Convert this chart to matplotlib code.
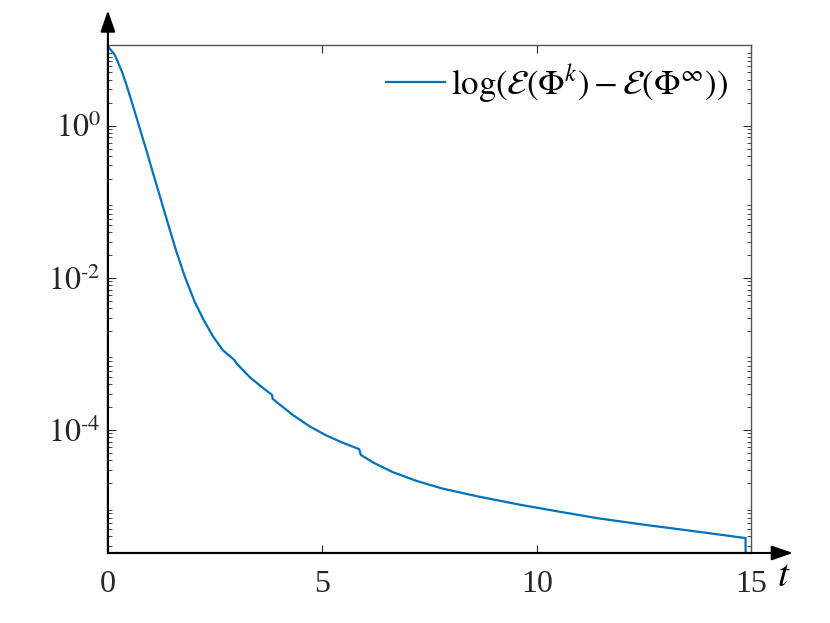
import math

import matplotlib
matplotlib.use("Agg")
import matplotlib.pyplot as plt
from matplotlib.ticker import FixedLocator, FuncFormatter, LogLocator, NullFormatter

plt.rcParams["font.family"] = ["Liberation Serif", "DejaVu Serif"]
plt.rcParams["mathtext.fontset"] = "stix"

# energy gap (repeated t = small jumps in the curve)
t_vals = [0.0, 0.16, 0.32, 0.43, 0.59, 0.74, 0.90, 1.05, 1.25, 1.46, 1.60,
          1.79, 2.02, 2.22, 2.45, 2.68, 2.95, 2.99, 3.30, 3.53, 3.83, 3.84,
          4.31, 4.70, 5.09, 5.45, 5.86, 5.90, 6.2, 6.64, 7.2, 7.80, 8.60,
          9.58, 10.5, 11.44, 12.6, 13.77, 14.87, 14.87]
gap_vals = [11.04, 8.51, 5.25, 3.47, 1.78, 0.933, 0.468, 0.240, 0.100,
            0.0398, 0.0219, 0.0105, 0.0049, 0.00288, 0.0017, 0.00112,
            8.3e-4, 7.6e-4, 5.0e-4, 3.9e-4, 2.88e-4, 2.57e-4, 1.58e-4,
            1.12e-4, 8.5e-5, 6.9e-5, 5.6e-5, 4.7e-5, 3.7e-5, 2.8e-5,
            2.14e-5, 1.7e-5, 1.35e-5, 1.05e-5, 8.5e-6, 6.9e-6, 5.6e-6,
            4.6e-6, 3.8e-6, 1e-7]

x_ticks = [0, 5, 10, 15]
y_ticks = [1e-4, 1e-2, 1e0]


def fmt_pow(v, pos):
    e = round(math.log10(v))
    return r"$10^{\text{%d}}$" % e


fig = plt.figure(figsize=(8.3, 6.23), dpi=100)
ax = fig.add_axes([0.130, 0.1124, 0.775, 0.8154])

ax.semilogy(t_vals, gap_vals, color="#0072BD", lw=1.6,
            label=r"$\log(\mathcal{E}(\Phi^k)-\mathcal{E}(\Phi^\infty))$")
ax.set_xlim(0, 15)
ax.set_ylim(10 ** -5.616, 10 ** 1.06)

ax.xaxis.set_major_locator(FixedLocator(x_ticks))
ax.yaxis.set_major_locator(FixedLocator(y_ticks))
ax.yaxis.set_minor_locator(LogLocator(base=10, subs=range(2, 10), numticks=20))
ax.yaxis.set_minor_formatter(NullFormatter())
ax.yaxis.set_major_formatter(FuncFormatter(fmt_pow))

ax.tick_params(which="both", direction="in", top=True, right=True,
               colors="#262626", labelsize=23)
ax.tick_params(which="major", length=6, width=0.8)
ax.tick_params(which="minor", length=3, width=0.6)
ax.tick_params(axis="x", pad=12)
ax.tick_params(axis="y", pad=5)

for side in ["top", "right"]:
    ax.spines[side].set_color("#555555")
    ax.spines[side].set_linewidth(1.0)
for side in ["left", "bottom"]:
    ax.spines[side].set_color("black")
    ax.spines[side].set_linewidth(1.5)

# axis arrows
arrow = dict(arrowstyle="-|>,head_length=1.3,head_width=0.45", color="black",
             lw=1.5, shrinkA=0, shrinkB=0)
ax.annotate("", xy=(0, 1.068), xytext=(0, 0), xycoords="axes fraction",
            textcoords="axes fraction", arrowprops=arrow, annotation_clip=False)
ax.annotate("", xy=(1.065, 0), xytext=(0, 0), xycoords="axes fraction",
            textcoords="axes fraction", arrowprops=arrow, annotation_clip=False)
ax.text(1.051, -0.047, r"$t$", transform=ax.transAxes, fontsize=28,
        ha="center", va="center")

ax.legend(loc="upper right", bbox_to_anchor=(0.996, 1.01), frameon=False,
          fontsize=25, handlelength=1.7, handletextpad=0.15, borderaxespad=0.2)

fig.savefig("out.png", dpi=100)
